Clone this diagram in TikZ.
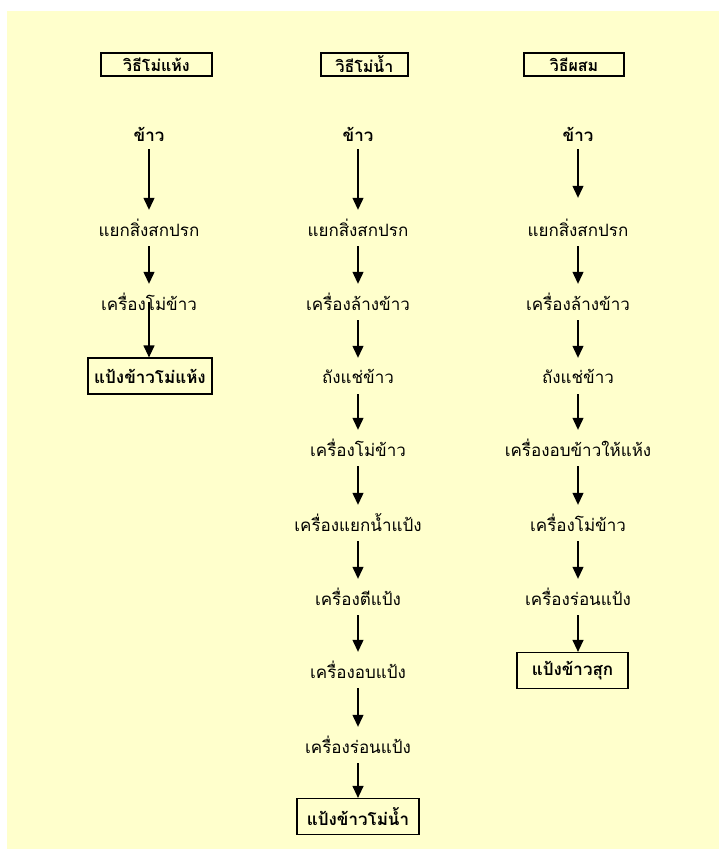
\documentclass[tikz,border=0pt]{standalone}
\usepackage{fontspec}
\usetikzlibrary{arrows.meta}
\newfontfamily\thaifont[Script=Thai]{Loma}
\definecolor{bgyellow}{HTML}{FFFFCC}
\tikzset{
  txt/.style={font=\thaifont\fontsize{17}{20}\selectfont, inner sep=0pt, minimum height=36pt},
  btxt/.style={font=\thaifont\bfseries\fontsize{17}{20}\selectfont, inner sep=0pt, minimum height=30pt},
  hdr/.style={draw, line width=1.2pt, fill=bgyellow, font=\thaifont\bfseries\fontsize{16}{18}\selectfont, inner sep=0pt, minimum height=23pt},
  endbox/.style={draw, line width=1.2pt, fill=bgyellow, font=\thaifont\bfseries\fontsize{17}{20}\selectfont, inner sep=0pt, minimum height=36pt},
  arr/.style={-{Triangle[width=11pt,length=12pt]}, line width=1.2pt}
}
\begin{document}
\begin{tikzpicture}[x=1pt,y=-1pt]
\useasboundingbox (0,0) rectangle (719,849);
\fill[bgyellow] (7,11) rectangle (719,849);

% column 1
\node[hdr, minimum width=111pt] (h1) at (156.5,64.5) {วิธีโม่แห้ง};
\node[btxt] (a1) at (149,134) {ข้าว};
\node[txt] (a2) at (149,228) {แยกสิ่งสกปรก};
\node[txt] (a3) at (149,302) {เครื่องโม่ข้าว};
\node[endbox, minimum width=124pt] (a4) at (150,376) {แป้งข้าวโม่แห้ง};
\draw[arr] (a1) -- (a2);
\draw[arr] (a2) -- (a3);
\draw[arr] (a3.center) -- (a3.center |- a4.north);

% column 2
\node[hdr, minimum width=87pt] (h2) at (364.5,64.5) {วิธีโม่น้ำ};
\node[btxt] (b1) at (358,134) {ข้าว};
\node[txt] (b2) at (358,228) {แยกสิ่งสกปรก};
\node[txt] (b3) at (358,302) {เครื่องล้างข้าว};
\node[txt] (b4) at (358,376) {ถังแช่ข้าว};
\node[txt] (b5) at (358,448) {เครื่องโม่ข้าว};
\node[txt] (b6) at (358,523) {เครื่องแยกน้ำแป้ง};
\node[txt] (b7) at (358,597) {เครื่องตีแป้ง};
\node[txt] (b8) at (358,670) {เครื่องอบแป้ง};
\node[txt] (b9) at (358,745) {เครื่องร่อนแป้ง};
\node[endbox, minimum width=122pt] (b10) at (358,816.5) {แป้งข้าวโม่น้ำ};
\draw[arr] (b1) -- (b2);
\draw[arr] (b2) -- (b3);
\draw[arr] (b3) -- (b4);
\draw[arr] (b4) -- (b5);
\draw[arr] (b5) -- (b6);
\draw[arr] (b6) -- (b7);
\draw[arr] (b7) -- (b8);
\draw[arr] (b8) -- (b9);
\draw[arr] (b9) -- (b10);

% column 3
\node[hdr, minimum width=100pt] (h3) at (574,64.5) {วิธีผสม};
\node[btxt] (c1) at (578,134) {ข้าว};
\node[txt] (c2) at (578,228) {แยกสิ่งสกปรก};
\node[txt] (c3) at (578,302) {เครื่องล้างข้าว};
\node[txt] (c4) at (578,376) {ถังแช่ข้าว};
\node[txt] (c5) at (578,448) {เครื่องอบข้าวให้แห้ง};
\node[txt] (c6) at (578,523) {เครื่องโม่ข้าว};
\node[txt] (c7) at (578,597) {เครื่องร่อนแป้ง};
\node[endbox, minimum width=111pt] (c8) at (572.5,670.5) {แป้งข้าวสุก};
\draw[arr, shorten >=12pt] (c1) -- (c2);
\draw[arr] (c2) -- (c3);
\draw[arr] (c3) -- (c4);
\draw[arr] (c4) -- (c5);
\draw[arr] (c5) -- (c6);
\draw[arr] (c6) -- (c7);
\draw[arr] (c7) -- (c7 |- c8.north);
\end{tikzpicture}
\end{document}
